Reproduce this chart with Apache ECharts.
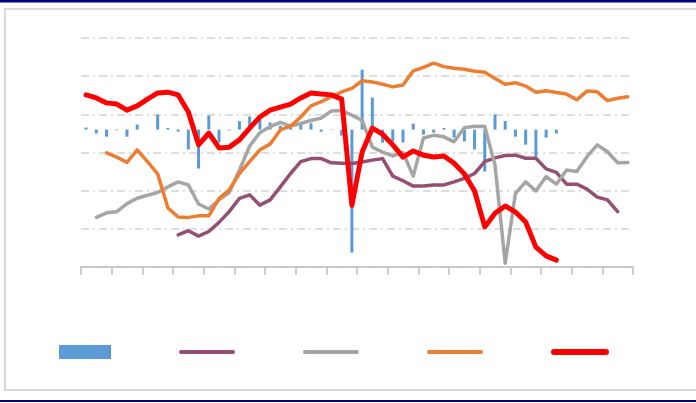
<!DOCTYPE html>
<html>
<head>
<meta charset="utf-8">
<script src="https://cdn.jsdelivr.net/npm/echarts@6/dist/echarts.min.js"></script>
<style>
  html, body { margin: 0; padding: 0; background: #fff; }
  #box { width: 696px; height: 403px; }
</style>
</head>
<body>
<div id="box"></div>
<script>
// 54 个周期（图上没有文字标签）
const categories = [
  '1','2','3','4','5','6','7','8','9','10','11','12','13','14','15','16','17','18',
  '19','20','21','22','23','24','25','26','27','28','29','30','31','32','33','34','35','36',
  '37','38','39','40','41','42','43','44','45','46','47','48','49','50','51','52','53','54'
];

// 柱状（次坐标轴，-60 ~ 40）
const barData = [
  0.9, -1.7, -3.1, -0.3, -3.1, 2.2, 0, 6.6, 0.7, -0.9, -8.7, -17.0, 6.1, -5.7, -0.3, 3.7, 5.7, 4.4,
  3.1, 1.7, 1.3, 2.2, 2.8, -0.9, -0.2, -2.6, -53.7, 26.2, 14.0, -5.7, -5.2, -5.7, 2.6, -2.2, -1.3, 0.7,
  -3.5, -5.2, -8.7, -18.3, 6.6, 3.7, -3.1, -6.6, -11.8, -3.5, -1.7, null, null, null, null, null, null, null
];

// 紫色线
const purpleData = [
  null, null, null, null, null, null, null, null, null, 8.4, 9.5, 8.1, 9.3, 11.7, 14.5, 18.0, 18.9, 16.2,
  17.6, 21.0, 24.5, 27.6, 28.4, 28.4, 27.3, 27.2, 27.1, 27.5, 28.0, 28.4, 23.8, 22.6, 21.2, 21.2, 21.5, 21.5,
  22.3, 23.2, 24.5, 27.6, 28.6, 29.2, 29.3, 28.5, 28.5, 25.7, 24.8, 21.7, 21.7, 20.4, 18.3, 17.6, 14.5, null
];

// 灰色线
const greyData = [
  null, 13.0, 14.2, 14.5, 16.6, 18.0, 18.8, 19.5, 21.0, 22.3, 21.5, 16.5, 15.2, 17.6, 19.5, 25.4, 31.7, 35.2,
  36.8, 37.9, 36.9, 37.6, 38.4, 39.0, 40.9, 41.0, 39.8, 38.4, 31.4, 30.1, 29.1, 30.0, 23.8, 33.8, 34.5, 34.1,
  32.8, 36.5, 36.9, 36.8, 26.7, 1.0, 19.3, 22.3, 19.9, 23.7, 21.7, 25.4, 25.0, 28.9, 32.0, 30.2, 27.3, 27.4
];

// 橙色线
const orangeData = [
  null, null, 29.9, 28.8, 27.4, 30.7, 27.6, 24.4, 15.5, 13.1, 13.0, 13.4, 13.4, 17.9, 20.2, 24.5, 27.6, 30.7,
  32.2, 35.9, 36.9, 39.3, 42.2, 43.3, 44.6, 45.9, 46.8, 48.8, 48.5, 47.9, 47.2, 47.7, 51.4, 52.3, 53.4, 52.5,
  52.1, 51.8, 51.3, 51.0, 49.4, 47.9, 48.3, 47.4, 45.8, 46.2, 45.7, 45.3, 43.8, 46.1, 45.9, 43.6, 44.2, 44.6
];

// 红色粗线
const redData = [
  45.1, 44.3, 43.0, 42.7, 41.1, 42.2, 44.0, 45.6, 45.8, 45.1, 40.6, 32.0, 35.1, 31.2, 31.4, 33.3, 36.4, 39.3,
  41.1, 41.9, 42.7, 44.3, 45.6, 45.3, 45.1, 44.0, 16.2, 30.1, 36.4, 34.8, 32.0, 28.8, 30.4, 29.3, 28.8, 29.1,
  27.2, 24.4, 19.9, 10.5, 14.1, 16.0, 14.4, 11.8, 5.2, 2.9, 1.8, null, null, null, null, null, null, null
];

const myChart = echarts.init(document.getElementById('box'), null, { renderer: 'canvas' });

const lineSeries = (name, data, color, width) => ({
  name: name,
  type: 'line',
  data: data,
  showSymbol: false,
  symbol: 'none',
  color: color,
  lineStyle: { color: color, width: width, cap: 'round', join: 'round' },
  emphasis: { disabled: true },
  animation: false
});

// 图例里只要线段，不要圆点
const legendLine = (name, width) => ({
  name: name,
  itemStyle: { color: 'transparent', borderWidth: 0, opacity: 0 },
  lineStyle: { width: width, cap: 'round' }
});

const option = {
  backgroundColor: '#ffffff',
  animation: false,
  graphic: [
    { type: 'rect', shape: { x: 0, y: 0, width: 696, height: 2.5 }, style: { fill: '#000080' }, silent: true },
    { type: 'rect', shape: { x: 0, y: 400, width: 696, height: 2 }, style: { fill: '#000080' }, silent: true },
    { type: 'rect', shape: { x: 5, y: 9, width: 700, height: 381 },
      style: { fill: null, stroke: '#d9d9d9', lineWidth: 2 }, silent: true, z: -1 }
  ],
  legend: {
    left: 54,
    top: 340,
    itemWidth: 52,
    itemHeight: 14,
    itemGap: 68,
    formatter: () => '',
    selectedMode: false,
    data: [
      { name: 's1', icon: 'rect' },
      legendLine('s2', 4),
      legendLine('s3', 4),
      legendLine('s4', 4),
      legendLine('s5', 6)
    ]
  },
  grid: { left: 81, right: 63, top: 38, bottom: 136 },
  xAxis: {
    type: 'category',
    data: categories,
    boundaryGap: true,
    axisLine: { lineStyle: { color: '#bfbfbf', width: 1.5 } },
    axisTick: { show: true, interval: 2, length: 8, lineStyle: { color: '#bfbfbf', width: 1.5 } },
    axisLabel: { show: false },
    splitLine: { show: false }
  },
  yAxis: [
    {
      type: 'value',
      min: 0,
      max: 60,
      interval: 10,
      axisLine: { show: false },
      axisTick: { show: false },
      axisLabel: { show: false },
      splitLine: { lineStyle: { color: '#d4d4d4', width: 1.5, type: [8, 4, 2, 4] } }
    },
    {
      type: 'value',
      min: -60,
      max: 40,
      show: false,
      splitLine: { show: false }
    }
  ],
  series: [
    {
      name: 's1',
      type: 'bar',
      yAxisIndex: 1,
      data: barData,
      barWidth: 3,
      color: '#5b9bd5',
      itemStyle: { color: '#5b9bd5' },
      emphasis: { disabled: true }
    },
    lineSeries('s2', purpleData, '#954f72', 3.5),
    lineSeries('s3', greyData, '#a5a5a5', 3.5),
    lineSeries('s4', orangeData, '#ed7d31', 3.5),
    lineSeries('s5', redData, '#ff0000', 5)
  ]
};

myChart.setOption(option);
window.onresize = function () {
  myChart.resize();
};
</script>
</body>
</html>
